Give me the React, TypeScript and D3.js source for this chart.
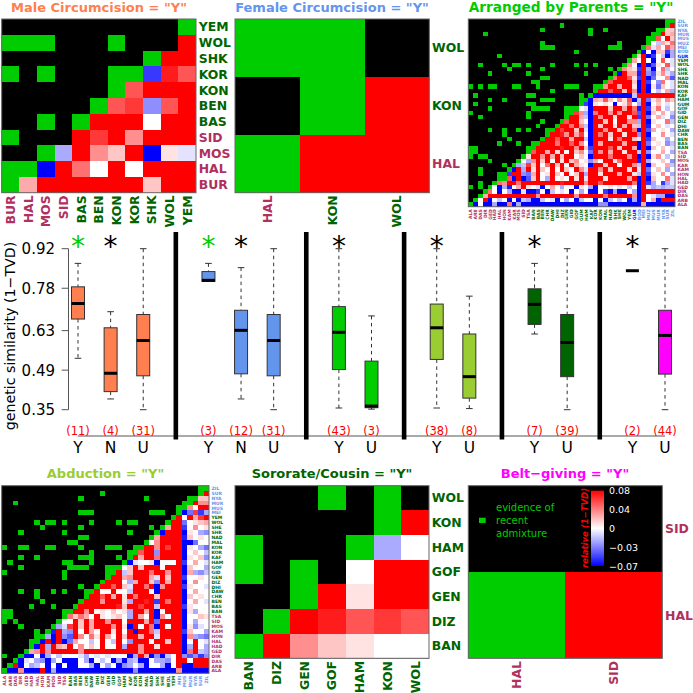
import * as d3 from "d3";

// ---- heatmap data ----
// one char per cell: "." no evidence, "#" recent admixture,
// 0-9 = 0..0.08 relative (1-TVD), a-i = down to -0.07
const maleLabels = ["BUR", "HAL", "MOS", "SID", "BAS", "BEN", "KON", "KOR", "SHK", "WOL", "YEM"];
const maleRows = [
  "..........#",
  "###...#...9",
  "........#99",
  "#.#...##g86",
  "......#6999",
  ".....#67d69",
  "..#.#999099",
  "#...9794999",
  "..#c9429i1a",
  "##i95090999",
  "#3999999299",
];

const femaleLabels = ["HAL", "KON", "WOL"];
const femaleRows = ["##.", ".#9", "#99"];

const sororateLabels = ["BAN", "DIZ", "GEN", "GOF", "HAM", "KON", "WOL"];
const sororateRows = [
  "...#.#.",
  ".....#9",
  "#...#c0",
  "#.#.099",
  "..#9199",
  ".#98676",
  "#942100",
];

const beltLabels = ["HAL", "SID"];
const beltRows = ["..", "#9"];

const parentsLabels = [
  "ALA", "ARB", "DAS", "DIR", "GED", "HAD", "HAL", "HON", "KAM", "KAR", "MOS", "SID", "TSA",
  "BAN", "BAS", "BEN", "CHR", "DAW", "DHI", "DIZ", "GEN", "GID", "GOF", "GUM", "HAM", "KAF", "KOR", "KON", "MAL", "NAD", "SHK", "SHE", "WOL", "YEM",
  "GUR", "BOD", "MEI", "MUZ", "MUS", "MUR", "NYA", "SUR", "ZIL",
];
// blocks of ten columns, right aligned
const parentsRows = [
  ".......... .......... .......... .......... .##",
  ".......... .........# .......... .......... .#9",
  ".......... .....#.... .....#..#. .........# #22",
  "...#...... .......... .....#.... ........## 923",
  ".......... .......... .......... .......##6 092",
  ".......... .....#.... .......... .#.....#0b 315",
  ".......... .....###.. .........# ##....#5a3 063",
  ".......... .......... ..#....... .....#i0i2 2gc",
  "......#... .......... .......... ....#29ig0 bic",
  ".......... .......... .......... ...#3090i0 60a",
  "..#....#.# #.#....#.. ..#.#.#... ..#40i9if1 06a",
  "........#. .....#.... .........# .#421g9ci0 5b0",
  "....#..... ..#....... ....#..... #i933h9df1 4ac",
  ".......... .....##... .........# 59961g9ie0 04f",
  ".......... ...##..... ........#6 99992i9g0d 50a",
  "#.#.##...# #...#..... ###...##49 93991i9i1e 20a",
  ".......... .......#.. ......#996 99294i9i0b 03c",
  ".#........ ..##...... ...#.#iiii iiiib99999 999",
  "....#..#.. .....###.. ...##i3262 0416ib9e13 042",
  ".#........ ..##...... ...#gi1010 i0150c9i02 0a0",
  "....#..... ...####... ###0ai9992 99395h9g15 0b0",
  "#......... ..#....... ##74ci5994 94996f9i20 30b",
  "..#....... ..#....... #993bi9499 19919g9e03 a0d",
  ".......... .....#...# 69920i9929 09944c9i10 05b",
  ".......... ....#...#9 9594bi9299 19392b9h02 0a0",
  "....#..#.. #.#...##97 9929ai9949 92995i9f30 10c",
  ".......#.. ......#998 49370i9592 99199d9i00 40a",
  "........#. .....#9969 9399bi9991 95992a9g20 0c0",
  "......#... #..##99959 96940i9399 99399i9e01 0db",
  "##........ ..##999998 99492g9996 92993i9i20 20a",
  "##........ ..#6993919 09240e9493 99199b9d00 30c",
  "#.##...... .#19949392 99020i9995 99949i9i14 0b0",
  "....#..... #0c4929091 92401d3099 15999h9c00 20d",
  ".......#.# cb72905929 09310i9929 90994b9i20 03b",
  "..#.....#i 9c91920909 2094a99492 99919a9e02 0c0",
  "..#...##g9 9de3901920 9029c99199 93991b9g10 40c",
  "......##6i 9if290c901 0919a99919 99939i9i20 05a",
  "..#..#5499 5999999998 9999499699 99995i9gc0 gca",
  "#.#.#0ich0 3910ai030c 00i10ci001 0a0b0i9acb cbb",
  "...#50i0ci iaiig0ib0a 0i0c0ii0gi cii0ci9999 999",
  "..#3999999 9999499999 9949999959 99994i90ac cii",
  ".#09i0b0i0 ibciib0ai0 c0ib00i0ib 0b0ici903i 999",
  "#i0iicii5i ciiiiiiiii iiiiiiiddi iiiiii3iii iii",
];

const abductionLabels = [
  "ALA", "ARB", "DAS", "DIR", "GED", "HAD", "HAL", "HON", "KAM", "MOS", "SID", "TSA",
  "BAN", "BAS", "BEN", "CHR", "DAW", "DHI", "DIZ", "GEN", "GID", "GOF", "HAM", "KAF", "KOR", "KON", "MAL", "NAD", "SHK", "SHE", "WOL", "YEM",
  "MEI", "MUS", "MUR", "NYA", "SUR", "ZIL",
];
const abductionRows = [
  "..........  .......... .......... ......##",
  "..........  ........#. .......... ......#9",
  "..........  ....#..... ......#... ....##22",
  "..#.......  .......... .......... ...##944",
  "..........  .......... .......... ..##4099",
  "..........  ....###... .......### ..#ie7gc",
  "..........  .......... .......... .#909379",
  "......#.##  .#....#... .#.##..... #99e0123",
  ".......#..  ....#..... .......#.# 399g0401",
  "...#......  .#........ ...#....#i 999i10cd",
  "..........  ....##.... .......#39 999h2010",
  "..........  ..##...... ......#049 999iie00",
  "#..##...##  ....#....# ##..##9949 799i10ce",
  "..........  ......#... ...##699d9 999i020b",
  "...#..#...  ....###... .#.#939959 999i102d",
  ".#........  .##...#... ..#ia001i0 009g030a",
  "...#......  ..####...# ##02929990 999i200c",
  "#.........  .#.......# #9b2999599 499i3cdb",
  "..........  .#.......# 99349993a9 299g0010",
  "..........  ........#9 990c3992d9 399i0400",
  "..........  ....#..#99 692a9959i4 999g100a",
  "...#..#..#  .#...##900 900b9990i9 999i0300",
  "......#...  .....#9969 3919599929 999i2010",
  ".......#..  ....#99949 991c9989g9 599i030a",
  ".....#...#  ...#999999 98299799b9 999g1000",
  "##........  .##9949010 201c9939i0 999i1c00",
  "##........  .#52530910 120c9309i4 099i0021",
  "#.#.......  #009293994 99099939e9 999i0c00",
  "...#.....#  ca79293999 491i9095i9 099i1da0",
  "......#.#h  9cd9093099 1909i995b9 999g200c",
  "......##ci  9df9405193 09299399a9 999i4cde",
  ".....##i9i  9ie300b090 b90d999099 299i090a",
  ".....#i9c9  3290402090 09c9949919 999ic90c",
  "....#34949  9999499999 9999949999 999i59bc",
  "#..#ii0ic0  b000ac0a0a 000ic93idi b09dfdgd",
  "..#ia0cdic  0iii0ci0b0 icicbii0cc d0990999",
  ".#9i0cb0i0  i0ii00ci0c 0idc0ci00c i09ii999",
  "#ii4iii9ic  iiiiiiiiii iiiidiiiii ii4iiiii",
];

// ---- boxplot data ----
// "|" separates the traits
const boxLabels = ["Y", "N", "U", "|", "Y", "N", "U", "|", "Y", "U", "|", "Y", "U", "|", "Y", "U", "|", "Y", "U"];
const whiskerHigh = [0.868, 0.697, 0.92, 0.868, 0.853, 0.92, 0.92, 0.682, 0.92, 0.752, 0.868, 0.92, 0.842, 0.92];
const upperQuart = [0.785, 0.64, 0.687, 0.839, 0.702, 0.687, 0.715, 0.522, 0.724, 0.618, 0.778, 0.687, 0.842, 0.702];
const medians = [0.726, 0.479, 0.595, 0.808, 0.631, 0.595, 0.624, 0.363, 0.64, 0.467, 0.723, 0.588, 0.842, 0.613];
const lowerQuart = [0.671, 0.414, 0.47, 0.804, 0.477, 0.47, 0.492, 0.357, 0.528, 0.391, 0.652, 0.467, 0.842, 0.476];
const whiskerLow = [0.532, 0.388, 0.35, 0.804, 0.388, 0.35, 0.356, 0.352, 0.356, 0.354, 0.618, 0.35, 0.842, 0.35];
const sampleCounts = [11, 4, 31, 3, 12, 31, 43, 3, 38, 8, 7, 39, 2, 44];
const stars = ["g", "k", "", "g", "k", "", "k", "", "k", "", "k", "", "k", ""];
const traitColors = ["#FF7F50", "#6495ED", "#00CD00", "#9ACD32", "#006400", "#FF00FF"];
const simTicks = [0.35, 0.49, 0.63, 0.78, 0.92];

const legendLines = ["evidence of", "recent", "admixture"];
const barTicks = [0.08, 0.04, 0, -0.03, -0.07];
const barTickText = ["0.08", "0.04", "0", "\u22120.03", "\u22120.07"];

const GREEN = "#00CD00";
const font = "'DejaVu Sans', sans-serif";

const heatColor = d3.scaleLinear<string>().domain([-0.07, 0, 0.08]).range(["#0000ff", "#ffffff", "#ff0000"]);

function cellFill(ch: string) {
  if (ch === "#") return GREEN;
  if (ch >= "0" && ch <= "9") return heatColor((+ch / 9) * 0.08);
  return heatColor(-((ch.charCodeAt(0) - 96) / 9) * 0.07);
}

// african region colours of the population labels
const nilotic = new Set(["ALA", "ARB", "DAS", "DIR", "GED", "HAD", "HAL", "HON", "KAM", "KAR", "MOS", "SID", "TSA", "BUR"]);
const bantu = new Set(["GUR", "BOD", "MEI", "MUZ", "MUS", "MUR", "NYA", "SUR", "ZIL"]);

function labelColor(name: string) {
  if (name === "GUR") return "#0000ff";
  if (nilotic.has(name)) return "#B03060";
  if (bantu.has(name)) return "#6495ED";
  return "#006400";
}

type HeatProps = {
  title: string;
  color: string;
  labels: string[];
  rows: string[];
  x0: number;
  x1: number;
  y0: number;
  y1: number;
  fontSize: number;
  titleX: number;
  titleY: number;
  titleSize?: number;
};

function Heat({ title, color, labels, rows, x0, x1, y0, y1, fontSize, titleX, titleY, titleSize = 13 }: HeatProps) {
  const n = labels.length;
  const x = d3.scaleBand<number>().domain(d3.range(n)).range([x0, x1]);
  const y = d3.scaleBand<number>().domain(d3.range(rows.length)).range([y0, y1]);
  const cleaned = rows.map((r) => r.replace(/\s/g, "").padStart(n, ".").slice(-n));
  const rowNames = labels.slice(0, rows.length).reverse();
  return (
    <g>
      <text x={titleX} y={titleY} textAnchor="middle" fontSize={titleSize} fontWeight="bold" fill={color}>
        {title}
      </text>
      <g filter="url(#soft)">
        <rect x={x0} y={y0} width={x1 - x0} height={y1 - y0} fill="#000" />
        {cleaned.map((row, r) =>
          row.split("").map((ch, c) =>
            ch === "." ? null : (
              <rect
                key={r + "-" + c}
                x={x(c)}
                y={y(r)}
                width={x.bandwidth()}
                height={y.bandwidth()}
                fill={cellFill(ch)}
                shapeRendering="crispEdges"
              />
            )
          )
        )}
      </g>
      <rect x={x0} y={y0} width={x1 - x0} height={y1 - y0} fill="none" stroke="#666" strokeWidth={1} />
      {rowNames.map((name, r) => (
        <text
          key={"r" + r}
          x={x1 + Math.max(fontSize * 0.22, 2.5)}
          y={(y(r) as number) + y.bandwidth() / 2}
          dy="0.36em"
          fontSize={fontSize}
          fontWeight="bold"
          fill={labelColor(name)}
        >
          {name}
        </text>
      ))}
      {labels.map((name, c) => {
        const cx = (x(c) as number) + x.bandwidth() / 2;
        const ty = y1 + Math.max(fontSize * 0.22, 2.5);
        return (
          <text
            key={"c" + c}
            transform={`translate(${cx},${ty}) rotate(-90)`}
            dy="0.36em"
            textAnchor="end"
            fontSize={fontSize}
            fontWeight="bold"
            fill={labelColor(name)}
          >
            {name}
          </text>
        );
      })}
    </g>
  );
}

function BoxPanel() {
  const x = d3.scalePoint<number>().domain(d3.range(boxLabels.length)).range([78, 665]);
  const y = d3.scaleLinear().domain([0.35, 0.92]).range([409.7, 248.7]);
  let box = -1;
  let trait = 0;
  const marks = boxLabels.map((label, i) => {
    const cx = x(i) as number;
    if (label === "|") {
      trait += 1;
      return <line key={i} x1={cx} x2={cx} y1={232} y2={439.5} stroke="#000" strokeWidth={4.6} />;
    }
    box += 1;
    const single = upperQuart[box] === lowerQuart[box];
    return (
      <g key={i}>
        {!single && (
          <g stroke="#333">
            <line x1={cx} x2={cx} y1={y(whiskerHigh[box])} y2={y(upperQuart[box])} strokeDasharray="3.5 3.5" />
            <line x1={cx} x2={cx} y1={y(lowerQuart[box])} y2={y(whiskerLow[box])} strokeDasharray="3.5 3.5" />
            <line x1={cx - 3.3} x2={cx + 3.3} y1={y(whiskerHigh[box])} y2={y(whiskerHigh[box])} />
            <line x1={cx - 3.3} x2={cx + 3.3} y1={y(whiskerLow[box])} y2={y(whiskerLow[box])} />
            <rect
              x={cx - 6.5}
              y={y(upperQuart[box])}
              width={13}
              height={y(lowerQuart[box]) - y(upperQuart[box])}
              fill={traitColors[trait]}
            />
          </g>
        )}
        <line x1={cx - 6.5} x2={cx + 6.5} y1={y(medians[box])} y2={y(medians[box])} stroke="#000" strokeWidth={3} />
        {stars[box] && (
          <text x={cx} y={256} textAnchor="middle" fontSize={28} fill={stars[box] === "g" ? GREEN : "#000"}>
            *
          </text>
        )}
        <text x={cx} y={435} textAnchor="middle" fontSize={11.5} fill="#ff0000">
          ({sampleCounts[box]})
        </text>
        <text x={cx} y={453} textAnchor="middle" fontSize={15.5} fill="#000">
          {label}
        </text>
      </g>
    );
  });
  return (
    <g>
      <line x1={x(0)} x2={x(boxLabels.length - 1)} y1={436} y2={436} stroke="#555" />
      <line x1={68.5} x2={68.5} y1={y(0.35)} y2={y(0.92)} stroke="#555" />
      {simTicks.map((t) => (
        <g key={t}>
          <line x1={61.7} x2={68.5} y1={y(t)} y2={y(t)} stroke="#555" />
          <text x={55} y={y(t)} dy="0.36em" textAnchor="end" fontSize={15} fill="#000">
            {t.toFixed(2)}
          </text>
        </g>
      ))}
      <text transform="translate(15,336) rotate(-90)" textAnchor="middle" fontSize={14.2} fill="#000">
        genetic similarity (1{"\u2212"}TVD)
      </text>
      {marks}
    </g>
  );
}

function Legend() {
  const barY = d3.scaleLinear().domain([-0.07, 0.08]).range([566, 490.7]);
  const tickY = d3.scalePoint<number>().domain(d3.range(barTicks.length)).range([491, 566.7]);
  return (
    <g>
      <rect x={479} y={517.7} width={6.7} height={5.3} fill={GREEN} />
      {legendLines.map((t, i) => (
        <text key={t} x={496} y={511 + i * 13.2} fontSize={10} fill={GREEN}>
          {t}
        </text>
      ))}
      <defs>
        <linearGradient id="barGrad" x1="0" x2="0" y1="0" y2="1">
          <stop offset="0%" stopColor={heatColor(0.08)} />
          <stop offset="50%" stopColor="#fff" />
          <stop offset="100%" stopColor={heatColor(-0.07)} />
        </linearGradient>
      </defs>
      <rect x={591} y={barY(0.08)} width={13} height={barY(-0.07) - barY(0.08)} fill="url(#barGrad)" />
      {barTickText.map((t, i) => (
        <text key={t} x={609} y={tickY(i)} dy="0.36em" fontSize={9.5} fill="#fff">
          {t}
        </text>
      ))}
      <text
        transform="translate(588,528) rotate(-90)"
        textAnchor="middle"
        fontSize={8.5}
        fontStyle="italic"
        fontWeight="bold"
        fill="#ff0000"
      >
        relative (1{"\u2212"}TVD)
      </text>
    </g>
  );
}

export default function App() {
  return (
    <svg
      width={693}
      height={693}
      style={{ position: "absolute", left: 0, top: 0, background: "#fff" }}
      fontFamily={font}
    >
      <defs>
        <filter id="soft" x="0" y="0" width="100%" height="100%">
          <feGaussianBlur stdDeviation="0.35" />
        </filter>
      </defs>
      <Heat
        title={'Male Circumcision = "Y"'}
        color="#FF7F50"
        labels={maleLabels}
        rows={maleRows}
        x0={1.7}
        x1={196}
        y0={19}
        y1={192.7}
        fontSize={12.4}
        titleX={99}
        titleY={12}
      />
      <Heat
        title={'Female Circumcision = "Y"'}
        color="#6495ED"
        labels={femaleLabels}
        rows={femaleRows}
        x0={235}
        x1={429.3}
        y0={19}
        y1={192.7}
        fontSize={12.4}
        titleX={332}
        titleY={12}
      />
      <Heat
        title={'Arranged by Parents = "Y"'}
        color={GREEN}
        labels={parentsLabels}
        rows={parentsRows}
        x0={468.3}
        x1={675}
        y0={19}
        y1={206.7}
        fontSize={4.5}
        titleX={571}
        titleY={12}
        titleSize={13.7}
      />
      <BoxPanel />
      <Heat
        title={'Abduction = "Y"'}
        color="#9ACD32"
        labels={abductionLabels}
        rows={abductionRows}
        x0={1.7}
        x1={209}
        y0={485.7}
        y1={673.3}
        fontSize={4.5}
        titleX={105.5}
        titleY={477.5}
      />
      <Heat
        title={'Sororate/Cousin = "Y"'}
        color="#006400"
        labels={sororateLabels}
        rows={sororateRows}
        x0={235}
        x1={429}
        y0={485.7}
        y1={658.3}
        fontSize={12.4}
        titleX={332}
        titleY={477.5}
      />
      <Heat
        title={'Belt\u2212giving = "Y"'}
        color="#FF00FF"
        labels={beltLabels}
        rows={beltRows}
        x0={468.3}
        x1={662.3}
        y0={485.7}
        y1={658.3}
        fontSize={12.4}
        titleX={565}
        titleY={477.5}
      />
      <Legend />
    </svg>
  );
}
